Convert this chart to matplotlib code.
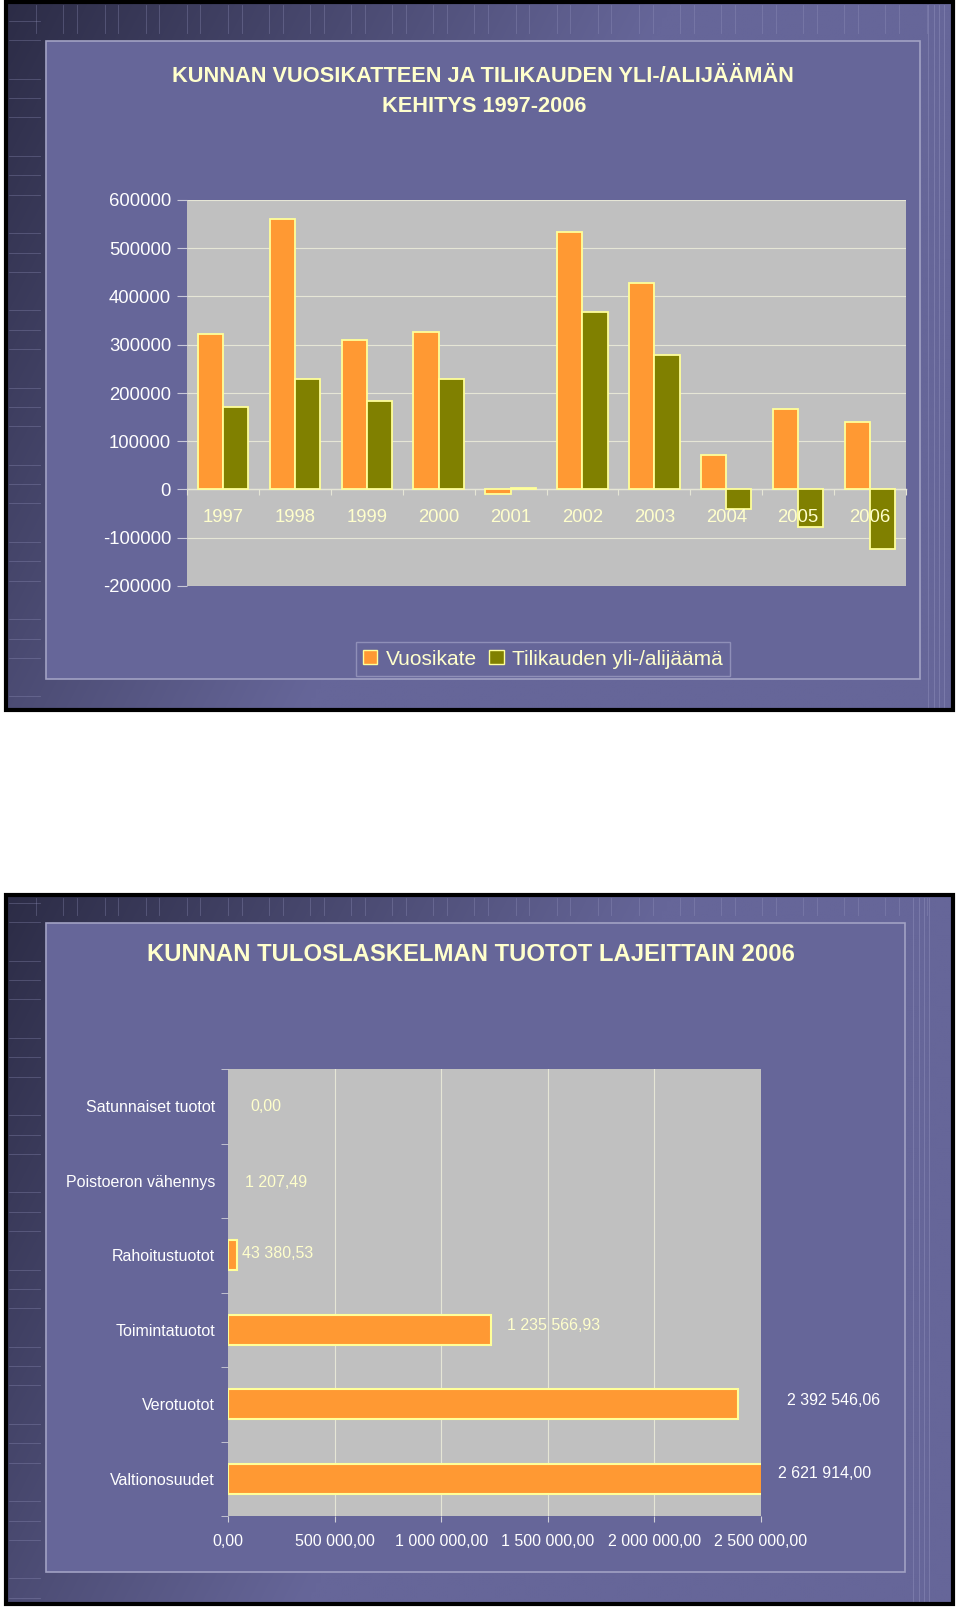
import numpy as np
import matplotlib
matplotlib.use("Agg")
import matplotlib.pyplot as plt
from matplotlib import font_manager
from matplotlib.patches import Rectangle, Patch
from matplotlib.lines import Line2D

# ---------------- data ----------------
years = ["1997", "1998", "1999", "2000", "2001", "2002", "2003", "2004", "2005", "2006"]
vuosikate = [322000, 560000, 309000, 327000, -9000, 533000, 427000, 71000, 167000, 139000]
tilikauden = [172000, 229000, 183000, 229000, 3000, 368000, 278000, -40000, -77000, -123000]
y_ticks_top = [-200000, -100000, 0, 100000, 200000, 300000, 400000, 500000, 600000]

tuotot_labels = ["Satunnaiset tuotot", "Poistoeron vähennys", "Rahoitustuotot",
                 "Toimintatuotot", "Verotuotot", "Valtionosuudet"]
tuotot_values = [0.00, 1207.49, 43380.53, 1235566.93, 2392546.06, 2621914.00]
x_ticks_bottom = [0, 500000, 1000000, 1500000, 2000000, 2500000]

title_top = ["KUNNAN VUOSIKATTEEN JA TILIKAUDEN YLI-/ALIJÄÄMÄN", "KEHITYS 1997-2006"]
title_bottom = "KUNNAN TULOSLASKELMAN TUOTOT LAJEITTAIN 2006"
legend_labels = ["Vuosikate", "Tilikauden yli-/alijäämä"]

# ---------------- style ----------------
W, H = 960, 1610
ORANGE = "#FF9933"
OLIVE = "#808000"
EDGE = "#FFFF99"
CREAM = "#FFFFCC"
BASE = "#666699"
PLOTBG = "#C0C0C0"
GRID = "#E6E6D6"

names = {f.name for f in font_manager.fontManager.ttflist}
NARROW = "Liberation Sans Narrow" if "Liberation Sans Narrow" in names else None
SANS = "Liberation Sans"
plt.rcParams["font.family"] = [SANS, "DejaVu Sans"]


def rect(x0, y0, x1, y1):
    return [x0 / W, 1 - y1 / H, (x1 - x0) / W, (y1 - y0) / H]


def fx(x):
    return x / W


def fy(y):
    return 1 - y / H


def fi_fmt(v):
    return f"{v:,.2f}".replace(",", " ").replace(".", ",")


fig = plt.figure(figsize=(W / 100, H / 100), dpi=100, facecolor="white")


def hex2rgb(h):
    h = h.lstrip("#")
    return np.array([int(h[i:i + 2], 16) / 255 for i in (0, 2, 4)])


def draw_panel(x0, y0, x1, y1, ix0, iy0, ix1, iy1):
    bg = fig.add_axes(rect(x0, y0, x1, y1), zorder=-10)
    bg.set_axis_off()
    nx, ny = 200, 150
    xn = np.linspace(0, 1, nx)[None, :]
    yn = np.linspace(0, 1, ny)[:, None]
    t = np.clip(xn / 0.7 + yn * 0.55, 0, 1)
    dark = hex2rgb("#2c2c46")
    base = hex2rgb(BASE)
    img = dark[None, None, :] * (1 - t[..., None]) + base[None, None, :] * t[..., None]
    bg.imshow(img, extent=[0, 1, 0, 1], origin="upper", aspect="auto", interpolation="bilinear")
    bg.set_xlim(0, 1)
    bg.set_ylim(0, 1)
    # decorative stripes
    for k, xx in enumerate(np.arange(x0 + 30, x1 - 20, 13.7)):
        if (k % 3) != 1:
            fig.add_artist(Line2D([fx(xx), fx(xx)], [fy(y0 + 3), fy(iy0 - 8)],
                                  transform=fig.transFigure, color="#9a9ac4", lw=0.6, alpha=0.35))
    for k, yy in enumerate(np.arange(iy0 - 20, y1 - 5, 19.3)):
        if (k % 4) != 2:
            fig.add_artist(Line2D([fx(x0 + 3), fx(ix0 - 6)], [fy(yy), fy(yy)],
                                  transform=fig.transFigure, color="#9a9ac4", lw=0.6, alpha=0.35))
    for xx in (ix1 + 8, ix1 + 14, ix1 + 19, ix1 + 24):
        fig.add_artist(Line2D([fx(xx), fx(xx)], [fy(y0 + 3), fy(y1 - 3)],
                              transform=fig.transFigure, color="#9a9ac4", lw=0.6, alpha=0.45))
    # inner box
    fig.add_artist(Rectangle((fx(ix0), fy(iy1)), (ix1 - ix0) / W, (iy1 - iy0) / H,
                             transform=fig.transFigure, facecolor=BASE, edgecolor="#a2a2c4",
                             lw=1.2, zorder=-5))
    # black frame
    fig.add_artist(Rectangle((fx(x0), fy(y1)), (x1 - x0) / W, (y1 - y0) / H,
                             transform=fig.transFigure, facecolor="none", edgecolor="black",
                             lw=3, zorder=5))


draw_panel(6, 2, 953, 710, 46, 41, 920, 679)
draw_panel(6, 895, 953, 1604, 46, 923, 905, 1572)

# ---------------- top chart ----------------
tfont = [NARROW, "DejaVu Sans"] if NARROW else [SANS, "DejaVu Sans"]
tsize_top = 18.5 if NARROW else 15.7
tsize_bot = 20.0 if NARROW else 17.2
fig.text(fx(483), fy(76), title_top[0], ha="center", va="center", fontsize=tsize_top,
         weight="bold", color=CREAM, family=tfont)
fig.text(fx(484), fy(106), title_top[1], ha="center", va="center", fontsize=tsize_top,
         weight="bold", color=CREAM, family=tfont)

ax1 = fig.add_axes(rect(187, 200, 906, 586))
ax1.set_facecolor(PLOTBG)
x = np.arange(len(years))
bw = 0.35
ax1.bar(x - bw / 2, vuosikate, bw, color=ORANGE, edgecolor=EDGE, linewidth=1.3, zorder=1.2)
ax1.bar(x + bw / 2, tilikauden, bw, color=OLIVE, edgecolor=EDGE, linewidth=1.3, zorder=1.2)
ax1.set_xlim(-0.5, len(years) - 0.5)
ax1.set_ylim(y_ticks_top[0], y_ticks_top[-1])
for v in y_ticks_top:
    ax1.axhline(v, color=GRID, lw=0.8, zorder=0.8)
for s in ("left", "right", "top"):
    ax1.spines[s].set_visible(False)
ax1.spines["bottom"].set_position(("data", 0))
ax1.spines["bottom"].set_color(GRID)
ax1.spines["bottom"].set_linewidth(1.0)
ax1.spines["bottom"].set_zorder(1.1)
ax1.set_xticks(np.arange(-0.5, len(years), 1.0))
ax1.set_xticklabels([])
ax1.set_xticks(x, minor=True)
ax1.set_xticklabels(years, minor=True)
ax1.tick_params(axis="x", which="major", length=4, direction="out", color=GRID)
ax1.tick_params(axis="x", which="minor", length=0, pad=14, labelsize=13.3, labelcolor=CREAM)
ax1.set_yticks(y_ticks_top)
ax1.set_yticklabels([str(v) for v in y_ticks_top])
ax1.tick_params(axis="y", length=7, color="#C8C8D8", pad=4.5, labelsize=13.3, labelcolor="white")

leg = fig.legend(handles=[Patch(facecolor=ORANGE, edgecolor=EDGE, label=legend_labels[0]),
                          Patch(facecolor=OLIVE, edgecolor=EDGE, label=legend_labels[1])],
                 loc="center", bbox_to_anchor=(fx(543), fy(659)), ncol=2, fontsize=15,
                 handlelength=0.7, handleheight=0.7, handletextpad=0.4, columnspacing=0.6,
                 borderpad=0.35, labelcolor=CREAM, fancybox=False, edgecolor="#9a9ac0")
leg.get_frame().set_facecolor("none")
leg.get_frame().set_linewidth(1.0)

# ---------------- bottom chart ----------------
fig.text(fx(471), fy(954), title_bottom, ha="center", va="center", fontsize=tsize_bot,
         weight="bold", color=CREAM, family=tfont)

ax2 = fig.add_axes(rect(228, 1069, 761, 1516))
ax2.set_facecolor(PLOTBG)
ypos = np.arange(len(tuotot_labels))
lws = [1.5 if v > 5000 else 0 for v in tuotot_values]
ax2.barh(ypos, tuotot_values, height=0.4, color=ORANGE, edgecolor=EDGE, linewidth=lws, zorder=1.2)
ax2.set_xlim(x_ticks_bottom[0], x_ticks_bottom[-1])
ax2.set_ylim(len(tuotot_labels) - 0.5, -0.5)
for v in x_ticks_bottom[1:-1]:
    ax2.axvline(v, color=GRID, lw=0.8, zorder=0.8)
for s in ax2.spines.values():
    s.set_visible(False)
ax2.set_xticks(x_ticks_bottom)
ax2.set_xticklabels([fi_fmt(v) for v in x_ticks_bottom])
ax2.tick_params(axis="x", length=4, direction="out", color="#D0D0D8", pad=9,
                labelsize=11.5, labelcolor="white")
ax2.set_yticks(ypos)
ax2.set_yticklabels(tuotot_labels)
ax2.tick_params(axis="y", which="major", length=0, pad=9.4, labelsize=11.5, labelcolor="white")
ax2.set_yticks(np.arange(-0.5, len(tuotot_labels), 1.0), minor=True)
ax2.tick_params(axis="y", which="minor", length=5, direction="out", color="#D0D0D8")

label_dx_pt = [16, 12, 3.6, 11.5, 35, 12]
label_dy_pt = [0, -1, 1, 3, 3, 4]
xmax = x_ticks_bottom[-1]
for i, v in enumerate(tuotot_values):
    xv = min(v, xmax)
    outside = v > xmax * 0.93
    ax2.annotate(fi_fmt(v), xy=(xv, i), xytext=(label_dx_pt[i], label_dy_pt[i]),
                 textcoords="offset points", ha="left", va="center", fontsize=11.5,
                 color="white" if outside else CREAM, annotation_clip=False, zorder=5)

fig.savefig("out.png", dpi=100, facecolor="white")
